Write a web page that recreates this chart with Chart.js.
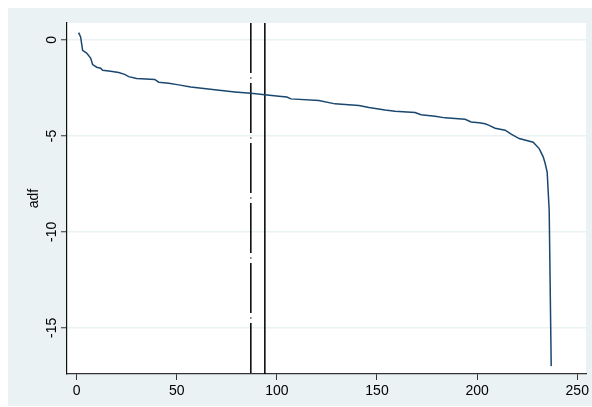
<!DOCTYPE html>
<html>
<head>
<meta charset="utf-8">
<script src="https://cdn.jsdelivr.net/npm/chart.js@4/dist/chart.umd.min.js"></script>
<style>
  html, body { margin: 0; padding: 0; background: #fff; }
  #wrap { width: 592px; height: 407px; }
</style>
</head>
<body>
<div id="wrap"><canvas id="c" width="592" height="407"></canvas></div>
<script>
const obs = [1, 2, 3, 5, 7, 8, 10, 12, 13, 17, 21, 24, 26, 30, 39, 41, 46, 51, 57, 69,
  79, 87, 94, 101, 105, 107, 121, 129, 141, 146, 154, 159, 169, 172, 179, 184, 194, 197, 201, 204,
  206, 209, 214, 217, 221, 228, 231, 233, 234, 235, 236, 237];
const adf = [0.38, 0.16, -0.54, -0.68, -0.94, -1.28, -1.42, -1.47, -1.58, -1.63, -1.70, -1.79, -1.91, -2.01, -2.06, -2.20, -2.26, -2.34, -2.45, -2.60,
  -2.71, -2.78, -2.85, -2.93, -2.97, -3.07, -3.16, -3.33, -3.42, -3.52, -3.65, -3.71, -3.78, -3.90, -3.97, -4.06, -4.13, -4.27, -4.32, -4.37,
  -4.45, -4.60, -4.70, -4.91, -5.14, -5.33, -5.66, -6.09, -6.44, -6.9, -8.9, -17.0];

// reference lines (dash-dot, solid)
const refDashDot = 87;
const refSolid = 94;

const xTicks = [0, 50, 100, 150, 200, 250];
const yTicks = [0, -5, -10, -15];
const xRange = [-4.8, 254.4];
const yRange = [-17.41, 0.885];
const yTitle = 'adf';

const FONT = "'Liberation Sans', Arial, sans-serif";
const BG = '#eaf2f3';

const points = obs.map((x, i) => ({ x: x, y: adf[i] }));
const vline = x => [{ x: x, y: yRange[1] }, { x: x, y: yRange[0] }];

const stataBack = {
  id: 'stataBack',
  beforeDraw(chart) {
    const { ctx, chartArea: a } = chart;
    ctx.save();
    ctx.fillStyle = '#fff';
    ctx.fillRect(0, 0, chart.width, chart.height);
    ctx.fillStyle = BG;
    ctx.fillRect(8, 8, chart.width - 8, 398);
    ctx.fillStyle = '#fff';
    ctx.fillRect(a.left, a.top, a.right - a.left, a.bottom - a.top);
    ctx.restore();
  },
  afterDraw(chart) {
    const { ctx, chartArea: a } = chart;
    const ys = chart.scales.y;
    ctx.save();
    ctx.fillStyle = '#000';
    ctx.font = '14px ' + FONT;
    ctx.textAlign = 'center';
    ctx.textBaseline = 'alphabetic';
    ys.ticks.forEach(t => {
      ctx.save();
      ctx.translate(55.5, ys.getPixelForValue(t.value));
      ctx.rotate(-Math.PI / 2);
      ctx.fillText(String(t.value), 0, 0);
      ctx.restore();
    });
    ctx.save();
    ctx.translate(37.5, (a.top + a.bottom) / 2);
    ctx.rotate(-Math.PI / 2);
    ctx.fillText(yTitle, 0, 0);
    ctx.restore();
    ctx.restore();
  }
};

new Chart(document.getElementById('c'), {
  type: 'scatter',
  data: {
    datasets: [
      { data: points, showLine: true, borderColor: '#1a476f', borderWidth: 1.5, pointRadius: 0, tension: 0 },
      { data: vline(refDashDot), showLine: true, borderColor: '#000', borderWidth: 1.5, pointRadius: 0, borderDash: [50, 4.5, 1, 4.5] },
      { data: vline(refSolid), showLine: true, borderColor: '#000', borderWidth: 1.5, pointRadius: 0 }
    ]
  },
  options: {
    responsive: false,
    animation: false,
    devicePixelRatio: 1,
    layout: { padding: { top: 23, right: 5, left: 0, bottom: 0 } },
    plugins: { legend: { display: false }, tooltip: { enabled: false } },
    scales: {
      x: {
        type: 'linear',
        min: xRange[0],
        max: xRange[1],
        afterBuildTicks: s => { s.ticks = xTicks.map(v => ({ value: v })); },
        afterFit: s => { s.height = 33; },
        grid: { drawOnChartArea: false, drawTicks: true, tickLength: 6, tickColor: '#333', tickWidth: 1 },
        border: { display: true, color: '#333', width: 1.2 },
        ticks: { color: '#000', font: { family: FONT, size: 14 }, padding: 3, maxRotation: 0, autoSkip: false }
      },
      y: {
        type: 'linear',
        min: yRange[0],
        max: yRange[1],
        afterBuildTicks: s => { s.ticks = yTicks.map(v => ({ value: v })); },
        afterFit: s => { s.width = 67; },
        grid: { color: BG, lineWidth: 1.5, drawTicks: true, tickLength: 6, tickColor: '#333', tickWidth: 1 },
        border: { display: true, color: '#111', width: 1.2 },
        ticks: { display: false }
      }
    }
  },
  plugins: [stataBack]
});
</script>
</body>
</html>
